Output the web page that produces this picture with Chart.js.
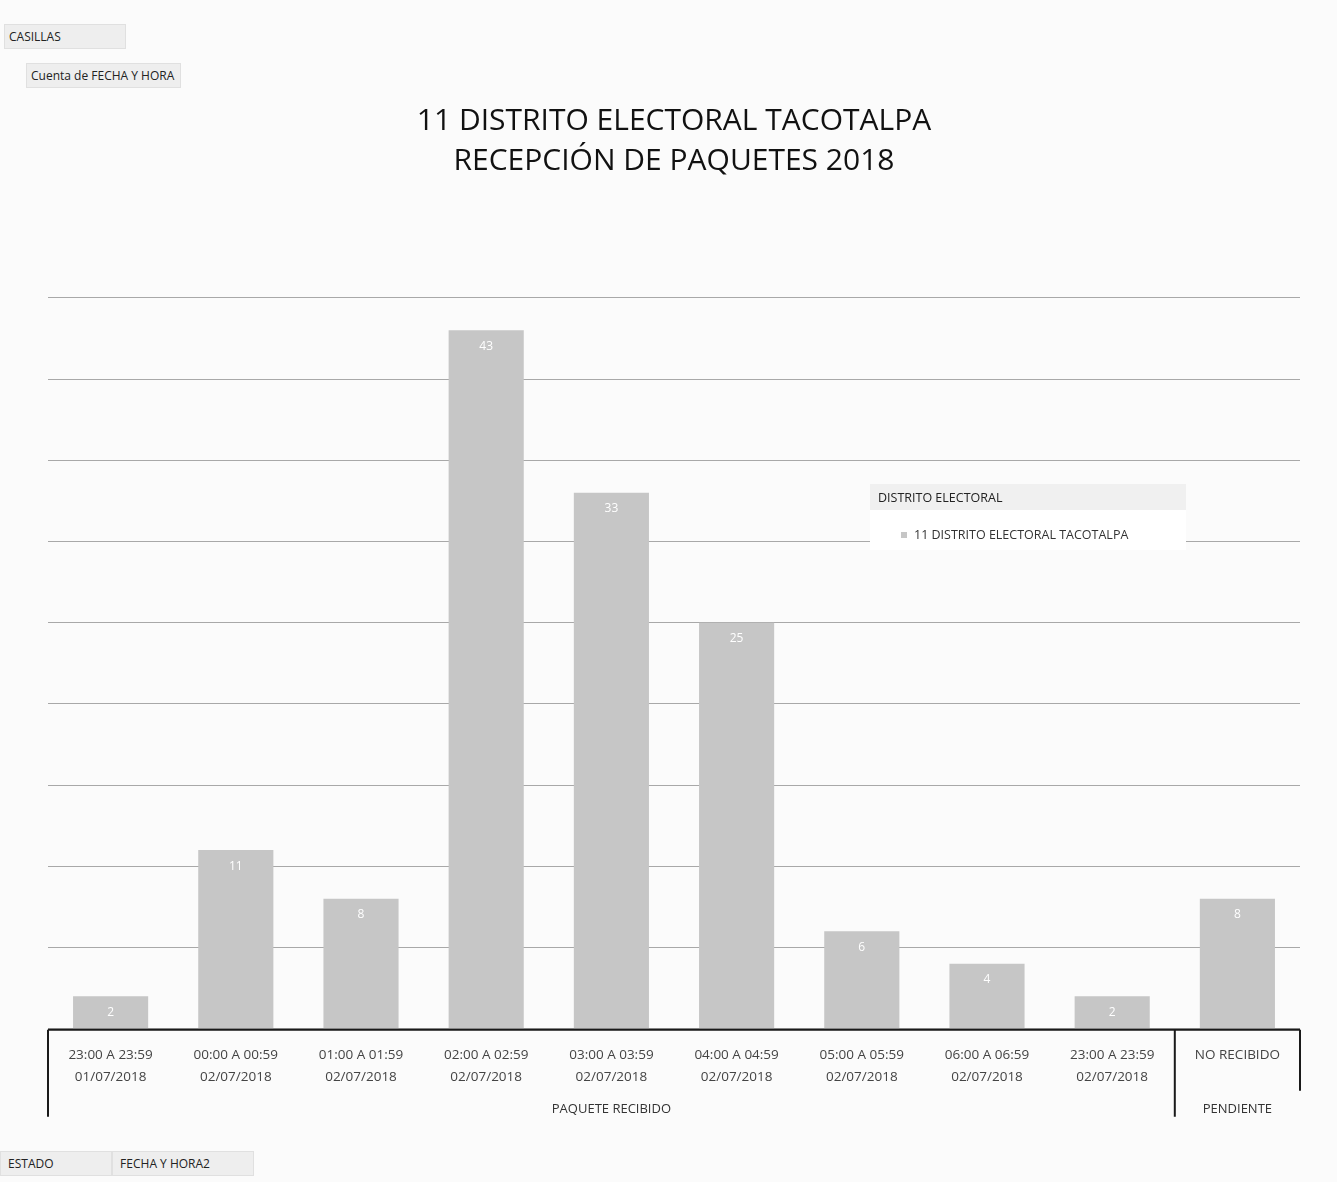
<!DOCTYPE html>
<html>
<head>
<meta charset="utf-8">
<script src="https://cdn.jsdelivr.net/npm/chart.js@4.4.1/dist/chart.umd.min.js"></script>
<style>
  html, body { margin:0; padding:0; background:#fbfbfb; }
  #wrap { position:relative; width:1337px; height:1182px; }
  canvas { position:absolute; left:0; top:0; }
  .btn { position:absolute; font-family:"Open Sans","DejaVu Sans",sans-serif; font-size:12px; color:#222;
         background:#eeeeee; border:1px solid #e0e0e0; padding:3px 6px 3px 4px; white-space:nowrap; }
</style>
</head>
<body>
<div id="wrap">
  <canvas id="chart" width="1337" height="1182"></canvas>
  <div class="btn" style="left:4px;top:24px;width:110px;">CASILLAS</div>
  <div class="btn" style="left:26px;top:63px;">Cuenta de FECHA Y HORA</div>
  <div class="btn" style="left:0px;top:1151px;width:100px;">&nbsp;ESTADO</div>
  <div class="btn" style="left:112px;top:1151px;width:130px;">&nbsp;FECHA Y HORA2</div>
</div>
<script>
const horas = [
  ['23:00 A 23:59','01/07/2018'],
  ['00:00 A 00:59','02/07/2018'],
  ['01:00 A 01:59','02/07/2018'],
  ['02:00 A 02:59','02/07/2018'],
  ['03:00 A 03:59','02/07/2018'],
  ['04:00 A 04:59','02/07/2018'],
  ['05:00 A 05:59','02/07/2018'],
  ['06:00 A 06:59','02/07/2018'],
  ['23:00 A 23:59','02/07/2018'],
  ['NO RECIBIDO','']
];
const paquetes = [2, 11, 8, 43, 33, 25, 6, 4, 2, 8];
const grupos = [
  { label:'PAQUETE RECIBIDO', from:0, to:8 },
  { label:'PENDIENTE', from:9, to:9 }
];
const serieNombre = '11 DISTRITO ELECTORAL TACOTALPA';
const barColor = '#c6c6c6';

// etiquetas blancas dentro de las barras
const valueLabels = {
  id:'valueLabels',
  afterDatasetsDraw(chart){
    const ctx = chart.ctx;
    const meta = chart.getDatasetMeta(0);
    ctx.save();
    ctx.fillStyle = '#ffffff';
    ctx.font = '12px "Open Sans", sans-serif';
    ctx.textAlign = 'center';
    ctx.textBaseline = 'middle';
    meta.data.forEach((bar,i)=>{
      ctx.fillText(String(paquetes[i]), bar.x, bar.y + 16);
    });
    ctx.restore();
  }
};

// marco de categorias agrupadas
const groupAxis = {
  id:'groupAxis',
  afterDraw(chart){
    const ctx = chart.ctx;
    const xs = chart.scales.x;
    const area = chart.chartArea;
    const half = (xs.getPixelForValue(1) - xs.getPixelForValue(0)) / 2;
    ctx.save();
    ctx.strokeStyle = '#1a1a1a';
    ctx.lineWidth = 2;
    ctx.beginPath();
    ctx.moveTo(area.left, area.bottom + 1);
    ctx.lineTo(area.right, area.bottom + 1);
    const sep = xs.getPixelForValue(grupos[1].from) - half;
    ctx.moveTo(area.left, area.bottom + 1); ctx.lineTo(area.left, area.bottom + 88);
    ctx.moveTo(sep, area.bottom + 1); ctx.lineTo(sep, area.bottom + 88);
    ctx.moveTo(area.right, area.bottom + 1); ctx.lineTo(area.right, area.bottom + 62);
    ctx.stroke();
    ctx.fillStyle = '#333';
    ctx.font = '13px "Open Sans", sans-serif';
    ctx.textAlign = 'center';
    ctx.textBaseline = 'middle';
    grupos.forEach(g=>{
      const x = (xs.getPixelForValue(g.from) + xs.getPixelForValue(g.to)) / 2;
      ctx.fillText(g.label, x, area.bottom + 80);
    });
    ctx.restore();
  }
};

// leyenda dentro del area
const innerLegend = {
  id:'innerLegend',
  afterDraw(chart){
    const ctx = chart.ctx;
    ctx.save();
    ctx.fillStyle = '#f0f0f0';
    ctx.fillRect(870, 484, 316, 26);
    ctx.fillStyle = '#fff';
    ctx.fillRect(870, 510, 316, 40);
    ctx.fillStyle = '#222';
    ctx.font = '12.5px "Open Sans", sans-serif';
    ctx.textBaseline = 'middle';
    ctx.fillText('DISTRITO ELECTORAL', 878, 498);
    ctx.fillStyle = barColor;
    ctx.fillRect(901, 532, 6, 6);
    ctx.fillStyle = '#333';
    ctx.fillText(serieNombre, 914, 535);
    ctx.restore();
  }
};

new Chart(document.getElementById('chart'), {
  type:'bar',
  data:{
    labels: horas,
    datasets:[{ label: serieNombre, data: paquetes, backgroundColor: barColor,
      barPercentage:0.6, categoryPercentage:1.0 }]
  },
  options:{
    responsive:false,
    animation:false,
    layout:{ padding:{ left:48, right:37, top:0, bottom:86 } },
    plugins:{
      legend:{ display:false },
      tooltip:{ enabled:false },
      title:{
        display:true,
        text:['11 DISTRITO ELECTORAL TACOTALPA','RECEPCIÓN DE PAQUETES 2018'],
        color:'#111',
        font:{ family:'"Open Sans", sans-serif', size:30, weight:'normal', lineHeight:1.33 },
        padding:{ top:102, bottom:116 }
      }
    },
    scales:{
      x:{
        grid:{ display:false },
        border:{ display:false },
        ticks:{ color:'#444', font:{ family:'"Open Sans", sans-serif', size:13.5, lineHeight:1.6 }, padding:8, maxRotation:0, autoSkip:false }
      },
      y:{
        min:0, max:45,
        ticks:{ display:false, stepSize:5 },
        border:{ display:false },
        grid:{ color:'#a8a8a8', lineWidth:1, drawTicks:false }
      }
    }
  },
  plugins:[valueLabels, groupAxis, innerLegend]
});
</script>
</body>
</html>
